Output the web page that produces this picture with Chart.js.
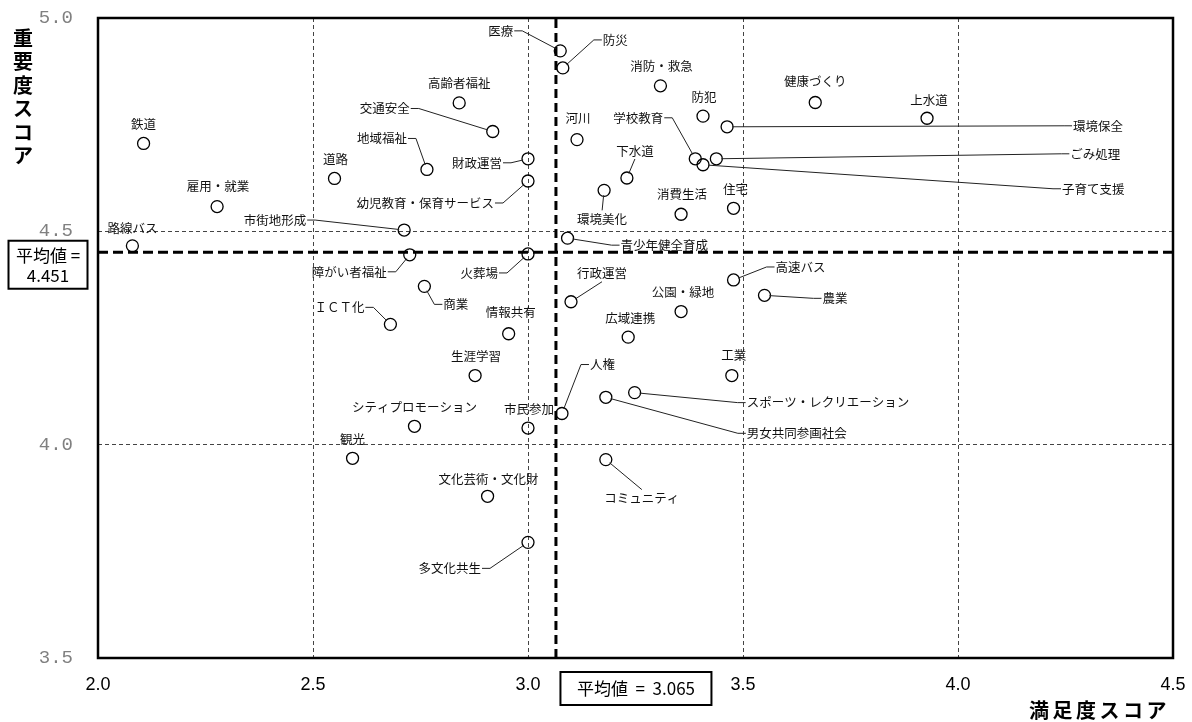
<!DOCTYPE html>
<html>
<head>
<meta charset="utf-8">
<script src="https://cdn.jsdelivr.net/npm/chart.js@4.4.1/dist/chart.umd.min.js"></script>
<style>
  html, body { margin: 0; padding: 0; background: #fff; }
  #wrap { width: 1192px; height: 722px; }
</style>
</head>
<body>
<div id="wrap"><canvas id="grafico" width="1192" height="722"></canvas></div>
<script>
// 施策項目ごとの満足度・重要度スコア
var items = ['医療', '防災', '消防・救急', '高齢者福祉', '防犯', '環境保全', '交通安全', '河川',
    '財政運営', '学校教育', 'ごみ処理', '子育て支援', '地域福祉', '下水道', '幼児教育・保育サービス',
    '環境美化', '住宅', '消費生活', '青少年健全育成', '市街地形成', '鉄道', '道路', '雇用・就業',
    '路線バス', '障がい者福祉', '火葬場', '商業', 'ＩＣＴ化', '行政運営', '高速バス', '農業',
    '公園・緑地', '情報共有', '広域連携', '生涯学習', '工業', 'スポーツ・レクリエーション',
    '男女共同参画社会', '人権', 'シティプロモーション', '市民参加', '観光', 'コミュニティ',
    '文化芸術・文化財', '多文化共生', '健康づくり', '上水道'];
var satisfaction = [3.075, 3.081, 3.308, 2.840, 3.407, 3.463, 2.918, 3.114,
    3.000, 3.389, 3.438, 3.407, 2.765, 3.230, 3.000,
    3.177, 3.478, 3.356, 3.092, 2.712, 2.106, 2.550, 2.277,
    2.080, 2.725, 3.000, 2.759, 2.680, 3.100, 3.478, 3.550,
    3.356, 2.955, 3.233, 2.877, 3.474, 3.248,
    3.181, 3.079, 2.736, 3.000, 2.592, 3.181,
    2.906, 3.000, 3.668, 3.928];
var importance = [4.923, 4.883, 4.841, 4.801, 4.770, 4.745, 4.734, 4.715,
    4.670, 4.670, 4.670, 4.656, 4.645, 4.625, 4.618,
    4.596, 4.554, 4.540, 4.484, 4.503, 4.706, 4.624, 4.558,
    4.466, 4.445, 4.447, 4.371, 4.282, 4.335, 4.386, 4.350,
    4.312, 4.260, 4.252, 4.162, 4.162, 4.122,
    4.111, 4.073, 4.043, 4.039, 3.968, 3.965,
    3.879, 3.771, 4.802, 4.765];
var meanSatisfaction = 3.065;
var meanImportance = 4.451;

var xTickValues = [2.0, 2.5, 3.0, 3.5, 4.0, 4.5];
var xTickLabels = ['2.0', '2.5', '3.0', '3.5', '4.0', '4.5'];
var yTickValues = [3.5, 4.0, 4.5, 5.0];
var yTickLabels = ['3.5', '4.0', '4.5', '5.0'];

// ラベル配置 (点からのずれ px, 引き出し線の種類)
// r: 左側に置き右端から線 / l: 右側に置き左端から線 / b: 下から線 / t: 上から線 / c: 線なし
var labelPos = [[-47, -20, 'r'], [40, -28, 'l'], [1, -20, 'c'], [0, -20, 'c'], [1, -19, 'c'],
    [346, -1, 'l'], [-83, -23, 'r'], [1, -21, 'c'], [-26, 4, 'r'], [-32, -41, 'r'],
    [354, -5, 'l'], [359, 24, 'l'], [-20, -31, 'r'], [8, -27, 'b'], [-34, 22, 'r'],
    [-2, 29, 't'], [2, -19, 'c'], [1, -20, 'c'], [53, 7, 'l'], [-98, -10, 'r'],
    [0, -19, 'c'], [1, -19, 'c'], [1, -20, 'c'], [0, -18, 'c'], [-23, 17, 'r'],
    [-30, 19, 'r'], [19, 18, 'l'], [-26, -17, 'r'], [31, -28, 'b'], [42, -13, 'l'],
    [58, 3, 'l'], [2, -19, 'c'], [2, -21, 'c'], [2, -19, 'c'], [1, -19, 'c'],
    [2, -20, 'c'], [112, 10, 'l'], [141, 36, 'l'], [28, -49, 'l'], [0, -19, 'c'],
    [1, -19, 'c'], [0, -19, 'c'], [36, 39, 't'], [1, -17, 'c'], [-47, 26, 'r'],
    [0, -21, 'c'], [2, -18, 'c']];

var jpFont = '"Noto Sans CJK JP", sans-serif';

var pontos = [];
for (var i = 0; i < items.length; i++) {
    pontos.push({ x: satisfaction[i], y: importance[i] });
}

var labelPlugin = {
    id: 'pointLabels',
    afterDatasetsDraw: function (chart) {
        var ctx = chart.ctx;
        var pts = chart.getDatasetMeta(2).data;
        ctx.save();
        ctx.font = '12.5px ' + jpFont;
        ctx.fillStyle = '#111';
        ctx.strokeStyle = '#222';
        ctx.lineWidth = 1;
        ctx.textBaseline = 'middle';
        for (var i = 0; i < pts.length; i++) {
            var p = pts[i], pos = labelPos[i];
            var tx = p.x + pos[0], ty = p.y + pos[1], kind = pos[2];
            var start = null, elbow = null;
            if (kind == 'r') {
                ctx.textAlign = 'right';
                start = [tx + 1, ty]; elbow = [tx + 9, ty];
            } else if (kind == 'l') {
                ctx.textAlign = 'left';
                start = [tx - 1, ty]; elbow = [tx - 9, ty];
            } else {
                ctx.textAlign = 'center';
                if (kind == 'b') start = [tx, ty + 8];
                if (kind == 't') start = [tx, ty - 9];
            }
            ctx.fillText(items[i], tx, ty);
            if (start) {
                var from = elbow || start;
                var dx = p.x - from[0], dy = p.y - from[1];
                var d = Math.sqrt(dx * dx + dy * dy) || 1;
                var r = 5;
                ctx.beginPath();
                ctx.moveTo(start[0], start[1]);
                if (elbow) ctx.lineTo(elbow[0], elbow[1]);
                ctx.lineTo(p.x - dx / d * r, p.y - dy / d * r);
                ctx.stroke();
            }
        }
        ctx.restore();
    },
    afterDraw: function (chart) {
        var ctx = chart.ctx;
        var a = chart.chartArea;
        var mx = chart.scales.x.getPixelForValue(meanSatisfaction);
        var my = chart.scales.y.getPixelForValue(meanImportance);
        ctx.save();
        // 枠
        ctx.strokeStyle = '#000';
        ctx.lineWidth = 2.5;
        ctx.strokeRect(a.left, a.top, a.right - a.left, a.bottom - a.top);

        // 軸タイトル
        ctx.fillStyle = '#000';
        ctx.font = 'bold 20px ' + jpFont;
        ctx.textAlign = 'center';
        ctx.textBaseline = 'middle';
        var yt = '重要度スコア'.split('');
        for (var i = 0; i < yt.length; i++) {
            ctx.fillText(yt[i], a.left - 75, a.top + 20 + i * 23.5);
        }
        var xt = '満足度スコア'.split('');
        for (var j = 0; j < xt.length; j++) {
            ctx.fillText(xt[j], a.right - 134 + j * 23.5, a.bottom + 52);
        }

        // 平均値ボックス
        ctx.lineWidth = 2;
        ctx.fillStyle = '#fff';
        ctx.fillRect(a.left - 89.5, my - 11.5, 79, 48);
        ctx.strokeRect(a.left - 89.5, my - 11.5, 79, 48);
        ctx.fillStyle = '#000';
        ctx.font = '17px ' + jpFont;
        ctx.fillText('平均値 =', a.left - 50, my + 3);
        ctx.fillText(meanImportance.toFixed(3), a.left - 50, my + 23);

        ctx.fillStyle = '#fff';
        ctx.fillRect(mx + 4.5, a.bottom + 14, 151, 33);
        ctx.strokeRect(mx + 4.5, a.bottom + 14, 151, 33);
        ctx.fillStyle = '#000';
        ctx.fillText('平均値  =  ' + meanSatisfaction.toFixed(3), mx + 80, a.bottom + 31);
        ctx.restore();
    }
};

var graf = document.getElementById('grafico');
var scatterChart = new Chart(graf, {
    type: 'scatter',
    data: {
        datasets: [{
            type: 'line',
            data: [{ x: meanSatisfaction, y: yTickValues[0] }, { x: meanSatisfaction, y: yTickValues[yTickValues.length - 1] }],
            borderColor: '#000',
            borderWidth: 3,
            borderDash: [9, 5],
            pointRadius: 0,
            fill: false
        }, {
            type: 'line',
            data: [{ x: xTickValues[0], y: meanImportance }, { x: xTickValues[xTickValues.length - 1], y: meanImportance }],
            borderColor: '#000',
            borderWidth: 3,
            borderDash: [10, 5],
            pointRadius: 0,
            fill: false
        }, {
            label: '施策',
            data: pontos,
            pointRadius: 6,
            pointHoverRadius: 6,
            borderWidth: 1.3,
            borderColor: '#000',
            backgroundColor: 'rgba(0,0,0,0)'
        }]
    },
    options: {
        responsive: false,
        animation: false,
        layout: { padding: { left: 0, top: 18, right: 19, bottom: 0 } },
        plugins: {
            legend: { display: false },
            tooltip: { enabled: false }
        },
        scales: {
            x: {
                type: 'linear',
                min: xTickValues[0],
                max: xTickValues[xTickValues.length - 1],
                afterBuildTicks: function (s) {
                    s.ticks = xTickValues.map(function (v) { return { value: v }; });
                },
                afterFit: function (s) {
                    s.height = 64;
                    s.paddingLeft = 0; s.paddingRight = 0;
                },
                grid: { color: '#444', lineWidth: 1, drawTicks: false },
                border: { display: false, dash: [4, 3] },
                ticks: {
                    padding: 16,
                    maxRotation: 0,
                    autoSkip: false,
                    color: '#000',
                    font: { family: '"Liberation Sans Narrow", "Liberation Sans", sans-serif', size: 18 },
                    callback: function (v, idx) { return xTickLabels[idx]; }
                }
            },
            y: {
                type: 'linear',
                min: yTickValues[0],
                max: yTickValues[yTickValues.length - 1],
                afterBuildTicks: function (s) {
                    s.ticks = yTickValues.map(function (v) { return { value: v }; });
                },
                afterFit: function (s) {
                    s.width = 98;
                    s.paddingTop = 0; s.paddingBottom = 0;
                },
                grid: { color: '#444', lineWidth: 1, drawTicks: false },
                border: { display: false, dash: [4, 3] },
                ticks: {
                    padding: 25,
                    color: '#808080',
                    font: { family: '"Liberation Mono", monospace', size: 19 },
                    callback: function (v, idx) { return yTickLabels[idx]; }
                }
            }
        }
    },
    plugins: [labelPlugin]
});
</script>
</body>
</html>
